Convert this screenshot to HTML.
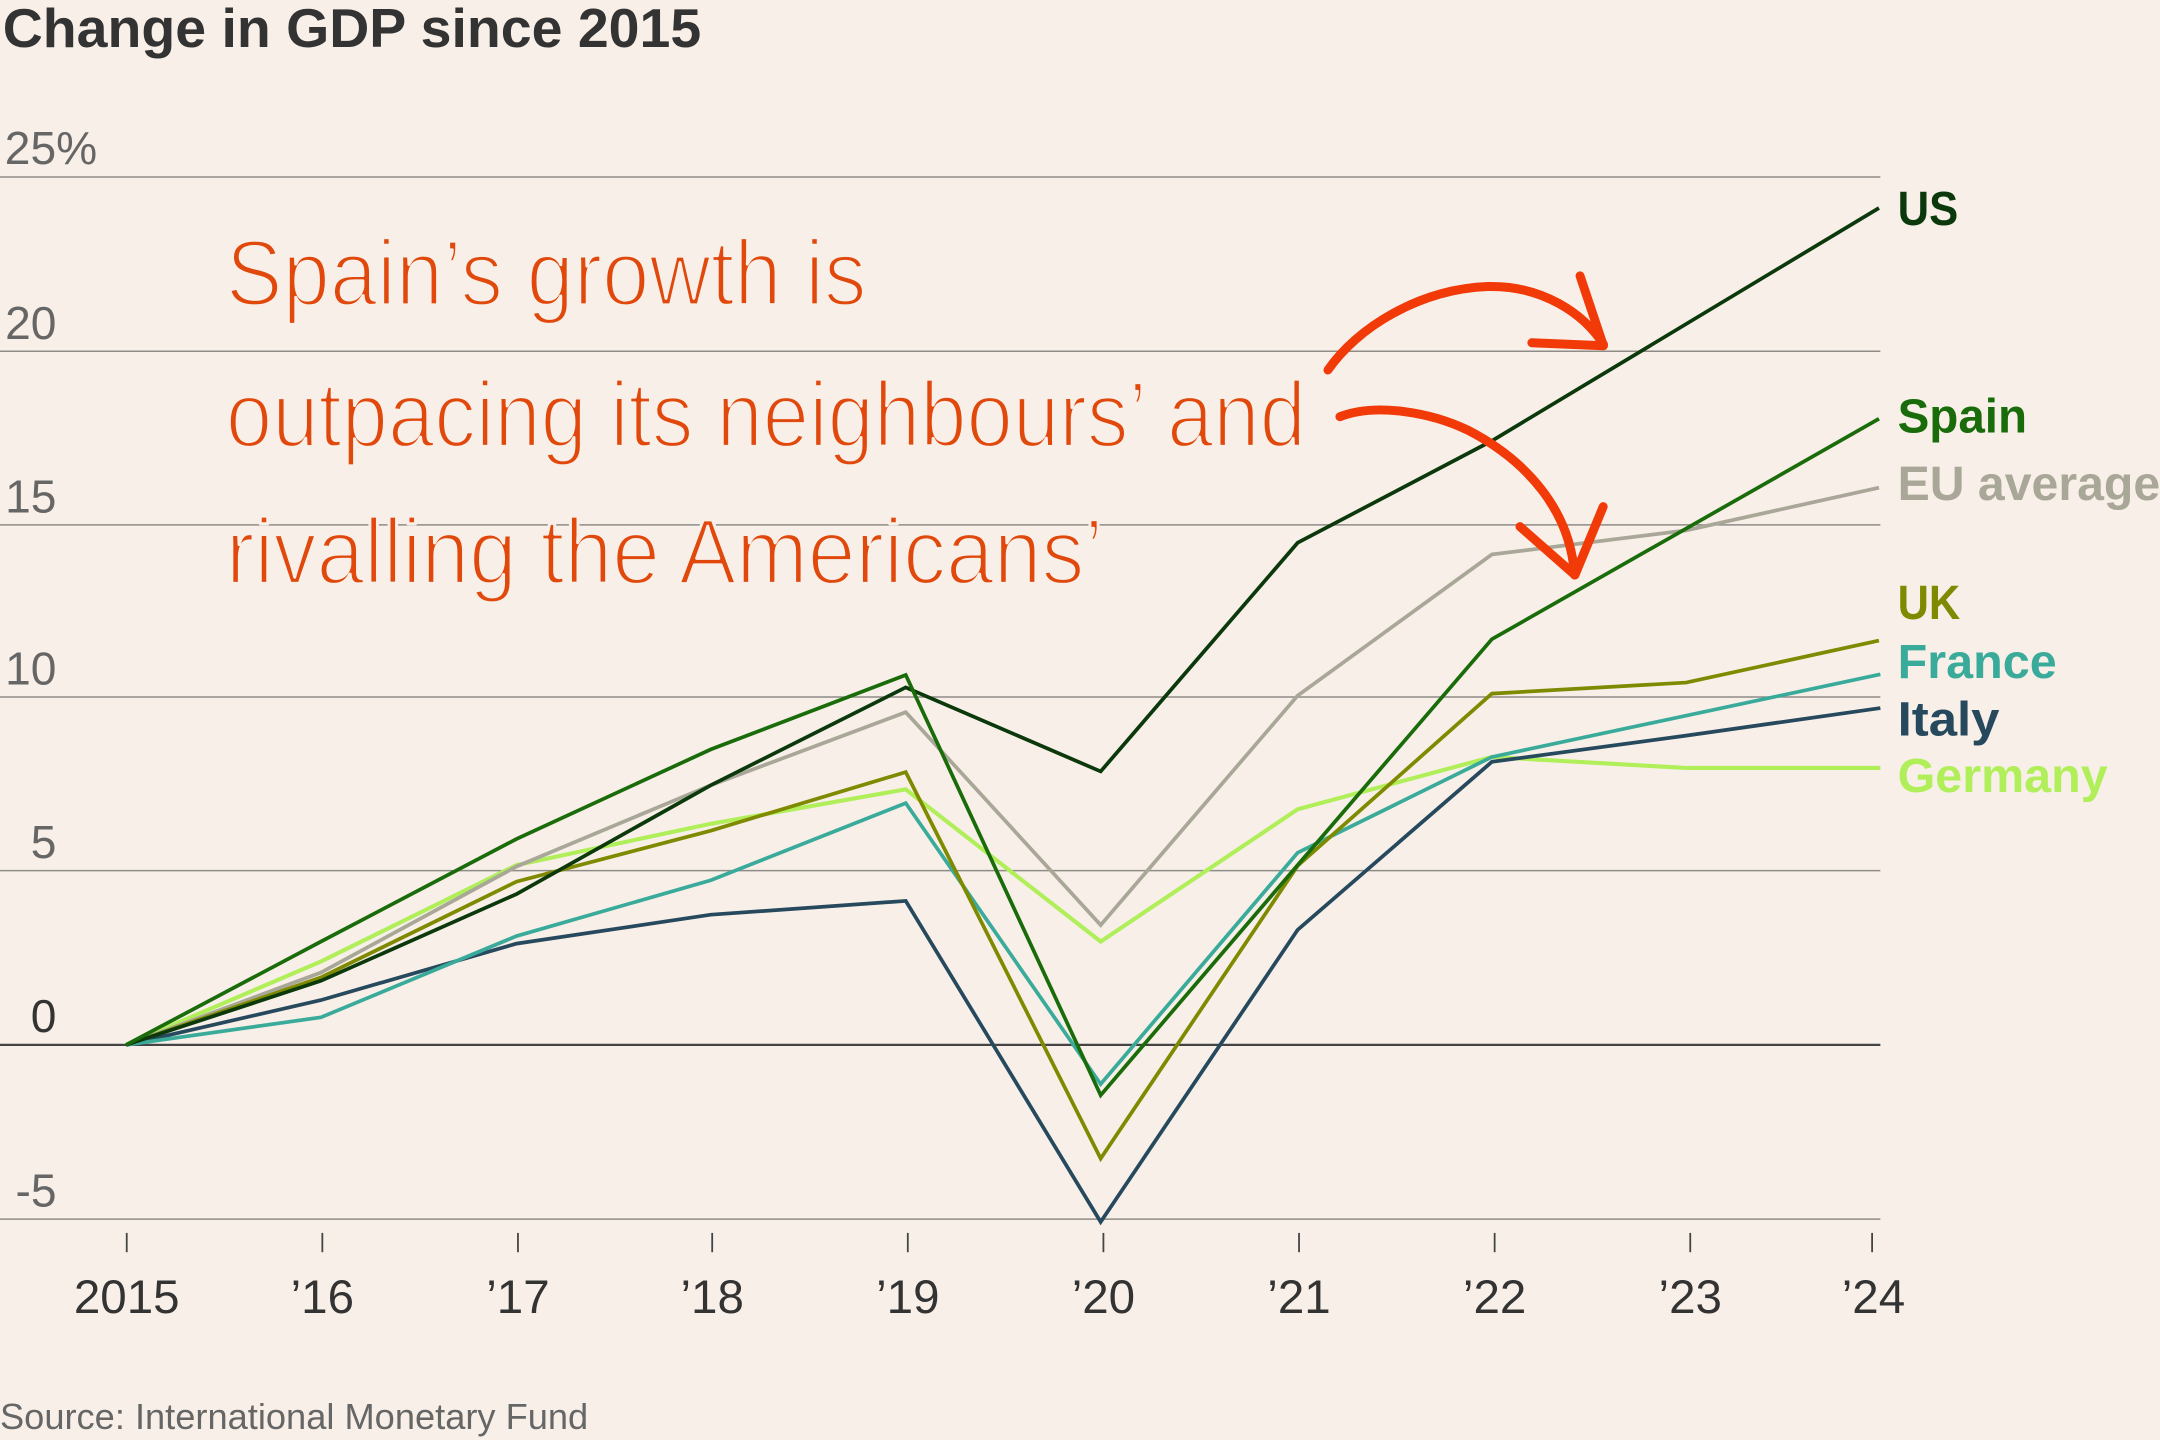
<!DOCTYPE html>
<html>
<head>
<meta charset="utf-8">
<style>
  html, body { margin: 0; padding: 0; background: #f8f0e8; }
  svg { display: block; }
  text { font-family: "Liberation Sans", Arial, sans-serif; }
</style>
</head>
<body>
<svg width="2160" height="1440" viewBox="0 0 1568 1045.33" preserveAspectRatio="none" xmlns="http://www.w3.org/2000/svg">
  <rect x="0" y="0" width="1568" height="1045.33" fill="#f8f0e8"/>

  <!-- Title -->
  <text x="2" y="34" font-size="39.5" font-weight="bold" fill="#333333" textLength="507" lengthAdjust="spacingAndGlyphs">Change in GDP since 2015</text>

  <!-- Gridlines -->
  <g stroke="#8f8b87" stroke-width="1.1" fill="none">
    <line x1="0" y1="128.5" x2="1365" y2="128.5"/>
    <line x1="0" y1="255" x2="1365" y2="255"/>
    <line x1="0" y1="381" x2="1365" y2="381"/>
    <line x1="0" y1="506" x2="1365" y2="506"/>
    <line x1="0" y1="632" x2="1365" y2="632"/>
    <line x1="0" y1="885" x2="1365" y2="885"/>
  </g>
  <line x1="0" y1="758.5" x2="1365" y2="758.5" stroke="#444444" stroke-width="1.6"/>

  <!-- Y labels -->
  <g font-size="33.5" fill="#666666">
    <text x="3.5" y="119">25%</text>
    <text x="41" y="246" text-anchor="end">20</text>
    <text x="41" y="372" text-anchor="end">15</text>
    <text x="41" y="497" text-anchor="end">10</text>
    <text x="41" y="623" text-anchor="end">5</text>
    <text x="41" y="749" text-anchor="end" fill="#333333">0</text>
    <text x="41" y="876" text-anchor="end">-5</text>
  </g>

  <!-- X ticks -->
  <g stroke="#444444" stroke-width="1.3">
    <line x1="92" y1="895" x2="92" y2="909"/>
    <line x1="234" y1="895" x2="234" y2="909"/>
    <line x1="376" y1="895" x2="376" y2="909"/>
    <line x1="517" y1="895" x2="517" y2="909"/>
    <line x1="659" y1="895" x2="659" y2="909"/>
    <line x1="801" y1="895" x2="801" y2="909"/>
    <line x1="943" y1="895" x2="943" y2="909"/>
    <line x1="1085" y1="895" x2="1085" y2="909"/>
    <line x1="1227" y1="895" x2="1227" y2="909"/>
    <line x1="1359" y1="895" x2="1359" y2="909"/>
  </g>

  <!-- X labels -->
  <g font-size="34.5" fill="#333333" text-anchor="middle">
    <text x="92" y="953">2015</text>
    <text x="234" y="953">’16</text>
    <text x="376" y="953">’17</text>
    <text x="517" y="953">’18</text>
    <text x="659" y="953">’19</text>
    <text x="801" y="953">’20</text>
    <text x="943" y="953">’21</text>
    <text x="1085" y="953">’22</text>
    <text x="1227" y="953">’23</text>
    <text x="1360" y="953">’24</text>
  </g>

  <!-- Series -->
  <g fill="none" stroke-width="2.7" stroke-linejoin="miter" stroke-linecap="butt">
    <polyline stroke="#b0ee5a" stroke-width="3" points="91.5,758.5 233,698 375,628 516,598 657.5,573 799,683.5 942,587.5 1083,549.5 1224,557.5 1365,557.5"/>
    <polyline stroke="#a9a797" points="91.5,758.5 233,706 375,629 516,570 657.5,517 799,671.5 942,505 1083,402.5 1224,385 1364,354"/>
    <polyline stroke="#27495d" points="91.5,758.5 233,726 375,685 516,664 657.5,654 799,887 942,675 1083,553 1224,534 1365,514"/>
    <polyline stroke="#3aab9b" points="91.5,758.5 233,738.5 375,679.5 516,639 657.5,583 799,787 942,619 1083,549.5 1365,489.5"/>
    <polyline stroke="#7f8a00" points="91.5,758.5 233,709.5 375,640 516,603 657.5,560.5 799,841 942,628.5 1083,503.5 1224,495.5 1364,465"/>
    <polyline stroke="#0b390b" points="91.5,758.5 233,712 375,649 516,570 657.5,499 799,560 942,394 1083,320 1364,151"/>
    <polyline stroke="#1a6c0b" points="91.5,758.5 233,683.5 375,609 516,544 657.5,490 799,795 942,628 1083,464 1364,304"/>
  </g>

  <!-- Series labels -->
  <g font-size="35" font-weight="bold">
    <text x="1377.5" y="163.3" fill="#0b390b" textLength="44" lengthAdjust="spacingAndGlyphs">US</text>
    <text x="1377.5" y="314" fill="#1a6c0b" textLength="94" lengthAdjust="spacingAndGlyphs">Spain</text>
    <text x="1377.5" y="363" fill="#a9a797">EU average</text>
    <text x="1377.5" y="449.5" fill="#7f8a00" textLength="45.5" lengthAdjust="spacingAndGlyphs">UK</text>
    <text x="1377.5" y="492" fill="#3aab9b" textLength="115.5" lengthAdjust="spacingAndGlyphs">France</text>
    <text x="1377.5" y="534" fill="#27495d" textLength="74" lengthAdjust="spacingAndGlyphs">Italy</text>
    <text x="1377.5" y="575" fill="#b0ee5a" textLength="152.5" lengthAdjust="spacingAndGlyphs">Germany</text>
  </g>

  <!-- Annotation text -->
  <g font-size="58" fill="#e0480c" stroke="#f8f0e8" stroke-width="2" stroke-linejoin="round">
    <text transform="translate(164,221.5) scale(1,1.16)" x="0" y="0" textLength="465" lengthAdjust="spacingAndGlyphs">Spain’s growth is</text>
    <text transform="translate(164,324) scale(1,1.16)" x="0" y="0" textLength="784" lengthAdjust="spacingAndGlyphs">outpacing its neighbours’ and</text>
    <text transform="translate(164,423.5) scale(1,1.16)" x="0" y="0" textLength="637" lengthAdjust="spacingAndGlyphs">rivalling the Americans’</text>
  </g>

  <!-- Arrows -->
  <g fill="none" stroke="#f23a08" stroke-linecap="round" stroke-linejoin="round">
    <path d="M964,268.6 C985,238 1030,210 1080,208 C1120,207 1150,228 1164,250" stroke-width="6.5"/>
    <path d="M1112,248.8 L1164,251 M1147,200.3 L1164,251" stroke-width="6.5"/>
    <path d="M972.7,302.5 C1000,292 1040,300 1065,312 C1110,335 1140,372 1143,417.4" stroke-width="6.5"/>
    <path d="M1103.4,382.3 L1143.3,417.4 L1163.8,367.8" stroke-width="6.5"/>
  </g>

  <!-- Source -->
  <text x="0" y="1037.5" font-size="26" fill="#666666" textLength="427" lengthAdjust="spacingAndGlyphs">Source: International Monetary Fund</text>
</svg>
</body>
</html>
